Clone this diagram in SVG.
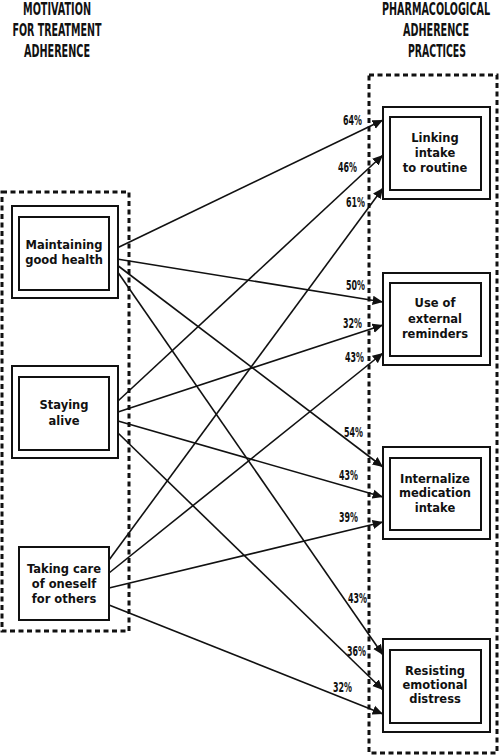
<svg xmlns="http://www.w3.org/2000/svg" width="499" height="755" viewBox="0 0 499 755">
<style>
.hdr{font-family:"DejaVu Sans Condensed","DejaVu Sans",sans-serif;font-weight:bold;font-size:18px;fill:#111;text-anchor:middle;font-stretch:condensed}
.lbl{font-family:"DejaVu Sans Condensed","DejaVu Sans",sans-serif;font-weight:bold;font-size:13.5px;fill:#111;text-anchor:end;font-stretch:condensed}
.nt{font-family:"DejaVu Sans","Liberation Sans",sans-serif;font-weight:bold;font-size:11.5px;fill:#111;text-anchor:middle}
.box{fill:#fff;stroke:#111;stroke-width:2}
.grp{fill:none;stroke:#111;stroke-width:3;stroke-dasharray:5 3.5}
.con{stroke:#111;stroke-width:1.6;fill:none;marker-end:url(#ah)}
</style>
<defs>
<marker id="ah" viewBox="0 0 10 10" refX="10" refY="5" markerWidth="6.5" markerHeight="6.5" markerUnits="strokeWidth" orient="auto">
<path d="M0,0.5 L10,5 L0,9.5 z" fill="#111"/>
</marker>
</defs>
<rect width="499" height="755" fill="#fff"/>
<g id="headers">
<text class="hdr" x="57" y="15" textLength="68" lengthAdjust="spacingAndGlyphs">MOTIVATION</text>
<text class="hdr" x="57" y="36" textLength="89" lengthAdjust="spacingAndGlyphs">FOR TREATMENT</text>
<text class="hdr" x="57" y="57" textLength="66" lengthAdjust="spacingAndGlyphs">ADHERENCE</text>
<text class="hdr" x="436" y="15" textLength="108" lengthAdjust="spacingAndGlyphs">PHARMACOLOGICAL</text>
<text class="hdr" x="436" y="36" textLength="66" lengthAdjust="spacingAndGlyphs">ADHERENCE</text>
<text class="hdr" x="437" y="57" textLength="58" lengthAdjust="spacingAndGlyphs">PRACTICES</text>
</g>
<g id="groups">
<rect class="grp" x="2" y="192" width="127" height="439"/>
<rect class="grp" x="369" y="75" width="128" height="678"/>
</g>
<g id="connectors">
<line class="con" x1="117" y1="248" x2="383" y2="120"/>
<line class="con" x1="117" y1="259" x2="383" y2="302"/>
<line class="con" x1="117" y1="265" x2="383" y2="467"/>
<line class="con" x1="117" y1="271" x2="383" y2="655"/>
<line class="con" x1="118" y1="401" x2="383" y2="155"/>
<line class="con" x1="118" y1="412" x2="383" y2="325"/>
<line class="con" x1="118" y1="421" x2="383" y2="497"/>
<line class="con" x1="118" y1="433" x2="383" y2="690"/>
<line class="con" x1="109" y1="560" x2="383" y2="188"/>
<line class="con" x1="109" y1="573" x2="383" y2="353"/>
<line class="con" x1="109" y1="588" x2="383" y2="522"/>
<line class="con" x1="109" y1="605" x2="383" y2="714"/>
</g>
<g id="labels">
<text class="lbl" x="362" y="125" textLength="19" lengthAdjust="spacingAndGlyphs">64%</text>
<text class="lbl" x="357" y="172" textLength="19" lengthAdjust="spacingAndGlyphs">46%</text>
<text class="lbl" x="365" y="207" textLength="19" lengthAdjust="spacingAndGlyphs">61%</text>
<text class="lbl" x="365" y="290" textLength="19" lengthAdjust="spacingAndGlyphs">50%</text>
<text class="lbl" x="362" y="328" textLength="19" lengthAdjust="spacingAndGlyphs">32%</text>
<text class="lbl" x="364" y="362" textLength="19" lengthAdjust="spacingAndGlyphs">43%</text>
<text class="lbl" x="363" y="437" textLength="19" lengthAdjust="spacingAndGlyphs">54%</text>
<text class="lbl" x="358" y="480" textLength="19" lengthAdjust="spacingAndGlyphs">43%</text>
<text class="lbl" x="358" y="522" textLength="19" lengthAdjust="spacingAndGlyphs">39%</text>
<text class="lbl" x="367" y="603" textLength="19" lengthAdjust="spacingAndGlyphs">43%</text>
<text class="lbl" x="366" y="656" textLength="19" lengthAdjust="spacingAndGlyphs">36%</text>
<text class="lbl" x="352" y="692" textLength="19" lengthAdjust="spacingAndGlyphs">32%</text>
</g>
<g id="maintaining">
<rect class="box" x="12" y="206" width="106" height="92"/>
<rect class="box" x="19" y="217" width="90" height="73"/>
<text class="nt" x="64" y="249">Maintaining</text>
<text class="nt" x="64" y="264">good health</text>
</g>
<g id="staying">
<rect class="box" x="12" y="366" width="106" height="92"/>
<rect class="box" x="19" y="377" width="90" height="73"/>
<text class="nt" x="64" y="409">Staying</text>
<text class="nt" x="64" y="425">alive</text>
</g>
<g id="taking">
<rect class="box" x="19" y="547" width="90" height="73"/>
<text class="nt" x="64" y="573">Taking care</text>
<text class="nt" x="64" y="588">of oneself</text>
<text class="nt" x="64" y="603">for others</text>
</g>
<g id="linking">
<rect class="box" x="383" y="107" width="107" height="92"/>
<rect class="box" x="390" y="117" width="91" height="73"/>
<text class="nt" x="435" y="142">Linking</text>
<text class="nt" x="435" y="157">intake</text>
<text class="nt" x="435" y="172">to routine</text>
</g>
<g id="external">
<rect class="box" x="383" y="273" width="107" height="92"/>
<rect class="box" x="390" y="283" width="91" height="73"/>
<text class="nt" x="435" y="307">Use of</text>
<text class="nt" x="435" y="323">external</text>
<text class="nt" x="435" y="338">reminders</text>
</g>
<g id="internalize">
<rect class="box" x="383" y="447" width="107" height="92"/>
<rect class="box" x="390" y="458" width="91" height="72"/>
<text class="nt" x="435" y="483">Internalize</text>
<text class="nt" x="435" y="497">medication</text>
<text class="nt" x="435" y="512">intake</text>
</g>
<g id="resisting">
<rect class="box" x="383" y="639" width="107" height="93"/>
<rect class="box" x="390" y="650" width="91" height="73"/>
<text class="nt" x="435" y="675">Resisting</text>
<text class="nt" x="435" y="689">emotional</text>
<text class="nt" x="435" y="703">distress</text>
</g>
</svg>
